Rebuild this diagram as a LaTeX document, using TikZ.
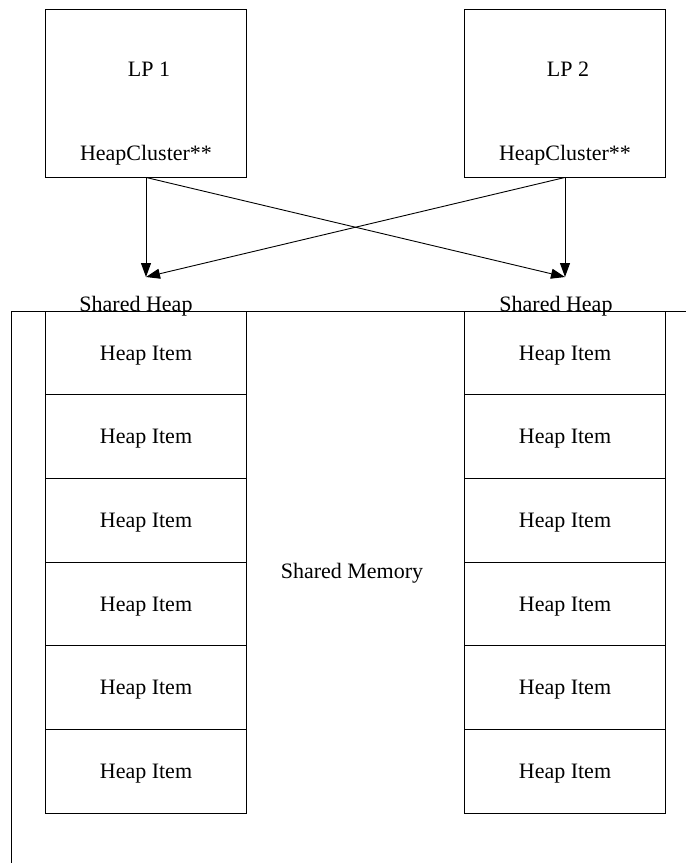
\documentclass[tikz,border=0pt]{standalone}
\usepackage{fontspec}
\setmainfont{Liberation Serif}
\usetikzlibrary{arrows.meta}
\begin{document}
\begin{tikzpicture}[x=1pt,y=-1pt,
  line width=0.9pt,
  every node/.style={font=\fontsize{22}{26}\selectfont, inner sep=0pt},
  lpbox/.style={draw, minimum width=201pt, minimum height=168pt},
  itembox/.style={draw, minimum width=201pt, minimum height=83.7pt},
  label/.style={anchor=base},
  link/.style={-{Triangle[length=14pt,width=10pt]}}]
\useasboundingbox (0,0) rectangle (686,863);

% logical processes
\node[lpbox] (lp1) at (146,93) {};
\node[lpbox] (lp2) at (565,93) {};
\node[label] (lp1name) at (149,76) {LP 1};
\node[label] (lp2name) at (568,76) {LP 2};
\node[label] (lp1hc) at (146,160) {HeapCluster**};
\node[label] (lp2hc) at (565,160) {HeapCluster**};

% shared memory region
\coordinate (memtl) at (11,311);
\coordinate (memtr) at (686,311);
\coordinate (membl) at (11,863);
\draw (memtr) -- (memtl) -- (membl);
\node[label] (memlabel) at (352,578) {Shared Memory};

% heap columns
\foreach \i in {1,...,6} {
  \node[itembox] (la\i) at (146,{311+83.7*(\i-0.5)}) {};
  \node[itembox] (rb\i) at (565,{311+83.7*(\i-0.5)}) {};
  \node[label] at (146,{311+83.7*(\i-1)+49}) {Heap Item};
  \node[label] at (565,{311+83.7*(\i-1)+49}) {Heap Item};
}
\node[label] (sh1) at (136,311) {Shared Heap};
\node[label] (sh2) at (556,311) {Shared Heap};

% pointers into the shared heaps
\coordinate (h1) at (146,277);
\coordinate (h2) at (565,277);
\draw[link] (lp1.south) -- (h1);
\draw[link] (lp1.south) -- (h2);
\draw[link] (lp2.south) -- (h2);
\draw[link] (lp2.south) -- (h1);
\end{tikzpicture}
\end{document}
